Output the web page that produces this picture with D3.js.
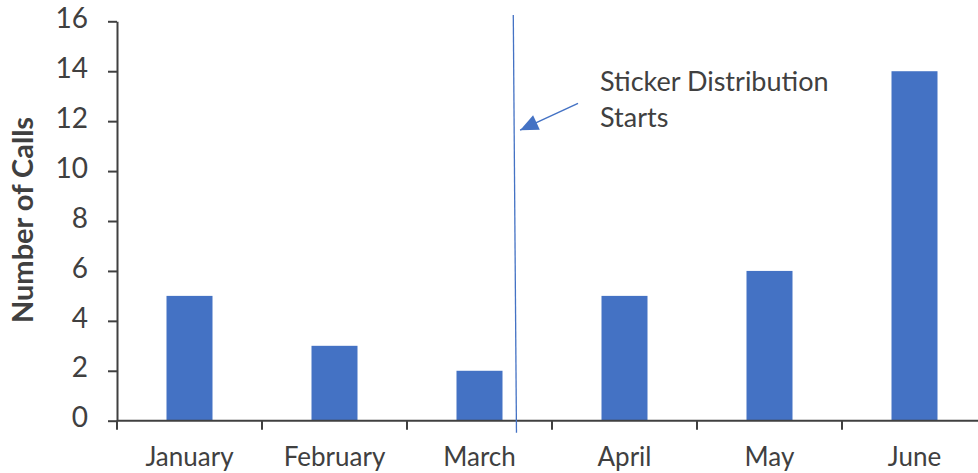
<!DOCTYPE html>
<html>
<head>
<meta charset="utf-8">
<script src="https://cdn.jsdelivr.net/npm/d3@7"></script>
<style>
  html, body { margin: 0; padding: 0; background: #fff; }
  svg { display: block; }
  text { font-family: Lato, "Open Sans", sans-serif; fill: #404040; }
</style>
</head>
<body>
<svg id="chart" width="978" height="473"></svg>
<script>
const months = ["January", "February", "March", "April", "May", "June"];
const calls = [5, 3, 2, 5, 6, 14];
const yTicks = [0, 2, 4, 6, 8, 10, 12, 14, 16];
const yTitle = "Number of Calls";
const annotationLines = ["Sticker Distribution", "Starts"];

const W = 978, H = 473;
const svg = d3.select("#chart");
const axisColor = "#404040";
const barColor = "#4472C4";

const x = d3.scaleBand().domain(months).range([117, 987]).paddingInner(0).paddingOuter(0);
const y = d3.scaleLinear().domain([0, 16]).range([420.7, 21.3]);
const barW = 46;

// bars
svg.append("g").selectAll("rect").data(months).join("rect")
  .attr("x", d => x(d) + x.bandwidth() / 2 - barW / 2)
  .attr("width", barW)
  .attr("y", (d, i) => y(calls[i]))
  .attr("height", (d, i) => y(0) - y(calls[i]))
  .attr("fill", barColor);

// y axis
const yAxis = svg.append("g").attr("transform", `translate(${x.range()[0]},0)`)
  .call(d3.axisLeft(y).tickValues(yTicks).tickSize(9).tickPadding(20).tickSizeOuter(0));
yAxis.select(".domain").attr("stroke", axisColor).attr("stroke-width", 2);
yAxis.selectAll(".tick line").attr("stroke", axisColor).attr("stroke-width", 2);
yAxis.selectAll(".tick text").attr("font-size", 28).attr("dy", "0.22em")
  .attr("font-family", "Lato, sans-serif").attr("fill", axisColor);

// x axis
const xTickScale = d3.scaleLinear().domain([0, months.length]).range(x.range());
const xAxis = svg.append("g").attr("transform", `translate(0,${y(0)})`);
xAxis.append("line").attr("x1", x.range()[0]).attr("x2", W)
  .attr("stroke", axisColor).attr("stroke-width", 2);
xAxis.selectAll("line.tk").data(d3.range(months.length + 1)).join("line").attr("class", "tk")
  .attr("x1", d => xTickScale(d)).attr("x2", d => xTickScale(d))
  .attr("y1", 0).attr("y2", 9).attr("stroke", axisColor).attr("stroke-width", 2);
xAxis.selectAll("text").data(months).join("text")
  .attr("x", d => x(d) + x.bandwidth() / 2)
  .attr("y", 45)
  .attr("text-anchor", "middle")
  .attr("font-size", 26)
  .text(d => d);

// y title
svg.append("text")
  .attr("transform", `translate(33,220) rotate(-90)`)
  .attr("text-anchor", "middle")
  .attr("font-size", 29)
  .attr("font-weight", "bold")
  .text(yTitle);

// annotation: vertical line between March and April
const lineX0 = x("March") + x.bandwidth() * 0.733;
const lineX1 = x("March") + x.bandwidth() * 0.755;
svg.append("line")
  .attr("x1", lineX0).attr("y1", y(16.25))
  .attr("x2", lineX1).attr("y2", y(-0.48))
  .attr("stroke", barColor).attr("stroke-width", 1.3);

// arrow
const arrowStartX = x("April") + 26, arrowStartY = y(12.71);
const arrowEndX = x("March") + x.bandwidth() * 0.78, arrowEndY = y(11.64);
svg.append("line")
  .attr("x1", arrowStartX).attr("y1", arrowStartY)
  .attr("x2", arrowEndX).attr("y2", arrowEndY)
  .attr("stroke", barColor).attr("stroke-width", 1.5);
const ang = Math.atan2(arrowEndY - arrowStartY, arrowEndX - arrowStartX);
const hl = 18, hw = 8;
const bx = arrowEndX - hl * Math.cos(ang), by = arrowEndY - hl * Math.sin(ang);
svg.append("path")
  .attr("d", `M${arrowEndX},${arrowEndY} L${bx + hw * Math.sin(ang)},${by - hw * Math.cos(ang)} L${bx - hw * Math.sin(ang)},${by + hw * Math.cos(ang)} Z`)
  .attr("fill", barColor);

// annotation text
const ann = svg.append("text").attr("x", 600).attr("y", 91).attr("font-size", 27);
annotationLines.forEach((t, i) => {
  ann.append("tspan").attr("x", 600).attr("dy", i === 0 ? 0 : 36).text(t);
});
</script>
</body>
</html>
